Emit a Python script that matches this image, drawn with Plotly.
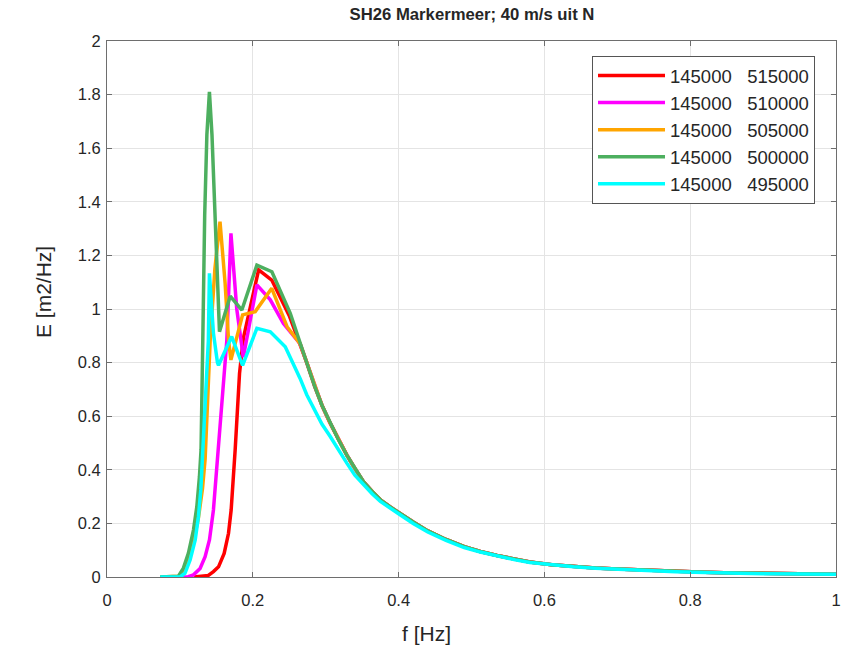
import plotly.graph_objects as go

# ---- data ----
series_names = ["145000\u00a0\u00a0\u00a0515000", "145000\u00a0\u00a0\u00a0510000",
                "145000\u00a0\u00a0\u00a0505000", "145000\u00a0\u00a0\u00a0500000",
                "145000\u00a0\u00a0\u00a0495000"]

# shared high-frequency tail
tail_f = [0.265, 0.274, 0.285, 0.295, 0.306, 0.317, 0.329, 0.340, 0.352, 0.364, 0.375, 0.388,
          0.402, 0.42, 0.44, 0.465, 0.49, 0.512, 0.535, 0.56, 0.58, 0.61, 0.64, 0.67, 0.70,
          0.74, 0.78, 0.82, 0.86, 0.90, 0.95, 1.0]
tail_E = [0.87, 0.80, 0.71, 0.64, 0.575, 0.515, 0.455, 0.405, 0.355, 0.318, 0.288, 0.262,
          0.236, 0.205, 0.172, 0.14, 0.113, 0.095, 0.08, 0.066, 0.056, 0.046, 0.039, 0.034, 0.030,
          0.025, 0.021, 0.018, 0.015, 0.013, 0.011, 0.010]
tail_E_cyan = [0.74, 0.68, 0.625, 0.57, 0.525, 0.475, 0.425, 0.38, 0.343, 0.31, 0.282, 0.256,
               0.232, 0.2, 0.168, 0.137, 0.11, 0.093, 0.078, 0.064, 0.054, 0.045, 0.038, 0.033,
               0.029, 0.024, 0.020, 0.017, 0.014, 0.012, 0.011, 0.010]

f_red = [0.119, 0.128, 0.139, 0.146, 0.153, 0.1607, 0.1667, 0.1703, 0.1735, 0.1758, 0.1818,
         0.187, 0.208, 0.226, 0.25]
E_red = [0, 0.002, 0.006, 0.02, 0.038, 0.088, 0.163, 0.25, 0.374, 0.474, 0.76,
         0.89, 1.146, 1.108, 0.975]

f_magenta = [0.100, 0.1114, 0.1186, 0.1277, 0.1346, 0.1406, 0.146, 0.1497, 0.153, 0.1607,
             0.1644, 0.170, 0.178, 0.187, 0.2056, 0.224, 0.242]
E_magenta = [0, 0.001, 0.008, 0.032, 0.076, 0.139, 0.25, 0.374, 0.474, 0.73,
             0.884, 1.282, 1.0, 0.82, 1.09, 1.034, 0.946]

f_orange = [0.073, 0.09, 0.1, 0.1048, 0.1117, 0.1186, 0.1254, 0.131, 0.1346, 0.1415, 0.148,
            0.155, 0.162, 0.1667, 0.170, 0.186, 0.2033, 0.226, 0.247]
E_orange = [0, 0, 0.003, 0.02, 0.07, 0.13, 0.22, 0.33, 0.44, 0.88, 1.15,
            1.326, 1.097, 0.884, 0.81, 0.978, 0.99, 1.077, 0.934]

f_green = [0.073, 0.09, 0.098, 0.1048, 0.1117, 0.1186, 0.1232, 0.1268, 0.129, 0.1314, 0.134,
           0.137, 0.1405, 0.144, 0.147, 0.150, 0.1543, 0.169, 0.185, 0.2056, 0.2262, 0.2514]
E_green = [0, 0, 0.003, 0.033, 0.089, 0.175, 0.262, 0.374, 0.474, 0.884, 1.35,
           1.65, 1.81, 1.65, 1.45, 1.2, 0.915, 1.048, 0.996, 1.164, 1.139, 0.984]

f_cyan = [0.073, 0.1003, 0.107, 0.114, 0.121, 0.1254, 0.1287, 0.1314, 0.139, 0.1405, 0.146,
          0.1515, 0.153, 0.171, 0.186, 0.2056, 0.224, 0.2445]
E_cyan = [0, 0, 0.014, 0.064, 0.138, 0.225, 0.325, 0.474, 0.88, 1.133, 0.91,
          0.80, 0.79, 0.897, 0.79, 0.928, 0.915, 0.859]

colors = ["#FF0000", "#FF00FF", "#FFA500", "#4DAF5F", "#00FFFF"]

x_ticks = [0, 0.2, 0.4, 0.6, 0.8, 1]
y_ticks = [0, 0.2, 0.4, 0.6, 0.8, 1, 1.2, 1.4, 1.6, 1.8, 2]

series = [
    (f_red + tail_f, E_red + tail_E),
    (f_magenta + tail_f, E_magenta + tail_E),
    (f_orange + tail_f, E_orange + tail_E),
    (f_green + tail_f, E_green + tail_E),
    (f_cyan + tail_f, E_cyan + tail_E_cyan),
]

FONT = "Liberation Sans, Arial, Helvetica, sans-serif"

fig = go.Figure()
for i, ((fx, ey), name, col) in enumerate(zip(series, series_names, colors)):
    fig.add_trace(go.Scatter(x=fx, y=ey, mode="lines", name=name, legendgroup=f"g{i}",
                             line=dict(color=col, width=3.5)))

axis_common = dict(
    showgrid=True, gridcolor="#E4E4E4", gridwidth=1,
    showline=True, linecolor="#6E6E6E", linewidth=1, mirror="ticks",
    ticks="inside", ticklen=5, tickcolor="#6E6E6E", tickwidth=1,
    zeroline=False,
    tickfont=dict(family=FONT, size=16.5, color="#262626"),
)

W, H = 846, 649
fig.update_layout(
    width=W, height=H, autosize=False,
    margin=dict(l=107, r=5, t=41, b=72),
    paper_bgcolor="white", plot_bgcolor="white",
    xaxis=dict(range=[0, 1], tickvals=x_ticks, ticklabelstandoff=8, **axis_common),
    yaxis=dict(range=[0, 2], tickvals=y_ticks, ticklabelstandoff=2, **axis_common),
    title=dict(text="<b>SH26 Markermeer; 40 m/s uit N</b>", x=472 / W, xanchor="center",
               y=1 - 14.5 / H, yanchor="middle",
               font=dict(family=FONT, size=16.7, color="#262626")),
    legend=dict(x=0.9712, y=0.972, xanchor="right", yanchor="top",
                bgcolor="white", bordercolor="#555555", borderwidth=1,
                font=dict(family=FONT, size=18.5, color="#262626"),
                tracegroupgap=0, itemwidth=67),
    showlegend=True,
)

fig.add_annotation(text="f [Hz]", xref="paper", yref="paper", x=0.4376, y=-0.1045,
                   xanchor="center", yanchor="middle", showarrow=False,
                   font=dict(family=FONT, size=21, color="#262626"))
fig.add_annotation(text="E [m2/Hz]", xref="paper", yref="paper", x=-0.0878,
                   y=0.5317, xanchor="center", yanchor="middle",
                   textangle=-90, showarrow=False,
                   font=dict(family=FONT, size=21, color="#262626"))

fig.write_html("out.html",
               config={"responsive": False, "displayModeBar": False},
               post_script="document.body.style.margin='0';document.body.style.overflow='hidden';")
